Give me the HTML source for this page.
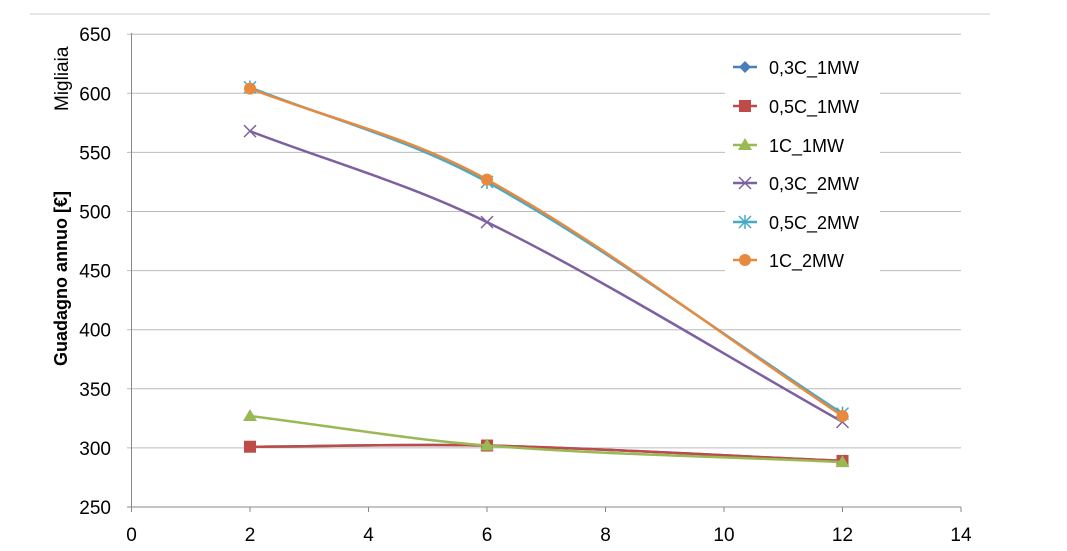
<!DOCTYPE html>
<html><head><meta charset="utf-8"><style>
html,body{margin:0;padding:0;background:#fff;width:1067px;height:551px;overflow:hidden}
text{font-family:"Liberation Sans",sans-serif;fill:#000}
</style></head><body>
<svg id="s" width="1067" height="551" xmlns="http://www.w3.org/2000/svg">
<line x1="30" y1="14" x2="990" y2="14" stroke="#ddd" stroke-width="1.5"/>
<g id="grid"></g>
<line x1="131.5" y1="33" x2="131.5" y2="510" stroke="#888" stroke-width="1"/>
<line x1="127" y1="507" x2="961" y2="507" stroke="#888" stroke-width="1"/>
<g id="ticks" font-size="19"></g>
<text transform="translate(67,366) rotate(-90)" font-size="18" font-weight="bold">Guadagno annuo [€]</text>
<text transform="translate(68,111) rotate(-90)" font-size="19">Migliaia</text>
<rect x="725" y="45" width="155" height="232" fill="#fff"/>
<g id="series"></g>
<g id="legend" font-size="18"></g>
</svg>
<script>
const X=v=>131.5+59.25*v, Y=v=>507-(v-250)*1.182;
const g=document.getElementById('grid'),t=document.getElementById('ticks');
let h='',tt='';
for(let v=250;v<=650;v+=50){const y=Y(v);if(v>250)h+=`<line x1="127" y1="${y}" x2="961" y2="${y}" stroke="#bbb" stroke-width="1"/>`;tt+=`<text x="111" y="${y+7}" text-anchor="end">${v}</text>`;}
for(let v=0;v<=14;v+=2){const x=X(v);tt+=`<line x1="${x}" y1="507" x2="${x}" y2="512" stroke="#888"/><text x="${x}" y="541" text-anchor="middle">${v}</text>`;}
g.innerHTML=h;t.innerHTML=tt;
const xs=[2,6,12];
const S=[
['0,3C_1MW','#4A7EBB','d',[301,302,289]],
['0,5C_1MW','#BE4B48','s',[301,302,289]],
['1C_1MW','#98B954','t',[327,302,288]],
['0,3C_2MW','#7D60A0','x',[568,491,322]],
['0,5C_2MW','#46AAC5','a',[605,525,329]],
['1C_2MW','#E8893E','c',[604,527,327]]];
function mk(m,x,y,c){
 if(m=='d')return `<path d="M${x} ${y-6}L${x+6} ${y}L${x} ${y+6}L${x-6} ${y}Z" fill="${c}"/>`;
 if(m=='s')return `<rect x="${x-6}" y="${y-6}" width="12" height="12" fill="${c}"/>`;
 if(m=='t')return `<path d="M${x} ${y-7}L${x+7} ${y+5}L${x-7} ${y+5}Z" fill="${c}"/>`;
 if(m=='x')return `<path d="M${x-6} ${y-6}L${x+6} ${y+6}M${x-6} ${y+6}L${x+6} ${y-6}" stroke="${c}" stroke-width="1.5"/>`;
 if(m=='a')return `<path d="M${x-6} ${y-6}L${x+6} ${y+6}M${x-6} ${y+6}L${x+6} ${y-6}M${x} ${y-7}V${y+7}" stroke="${c}" stroke-width="1.5"/>`;
 return `<circle cx="${x}" cy="${y}" r="6" fill="${c}"/>`;
}
let sh='',lg='';
S.forEach((s,i)=>{
 const P=xs.map((x,j)=>[X(x),Y(s[3][j])]);
 const T=P.map((p,j)=>{const a=P[Math.max(j-1,0)],b=P[Math.min(j+1,2)];return[(b[0]-a[0])/(j==1?2:1),(b[1]-a[1])/(j==1?2:1)];});
 let d=`M${P[0][0]} ${P[0][1]}`;
 for(let j=0;j<2;j++){const dx=(P[j+1][0]-P[j][0])/3;
  const s0=T[j][1]/T[j][0],s1=T[j+1][1]/T[j+1][0];
  d+=`C${P[j][0]+dx} ${P[j][1]+s0*dx} ${P[j+1][0]-dx} ${P[j+1][1]-s1*dx} ${P[j+1][0]} ${P[j+1][1]}`;}
 sh+=`<path d="${d}" fill="none" stroke="${s[1]}" stroke-width="2.5"/>`;
 P.forEach(p=>sh+=mk(s[2],p[0],p[1],s[1]));
 const ly=[67,106,145,183,222,260][i];
 lg+=`<line x1="733" y1="${ly}" x2="757" y2="${ly}" stroke="${s[1]}" stroke-width="2.5"/>`+mk(s[2],745,ly,s[1])+`<text x="769" y="${ly+7}">${s[0]}</text>`;
});
document.getElementById('series').innerHTML=sh;document.getElementById('legend').innerHTML=lg;
</script>
</body></html>
